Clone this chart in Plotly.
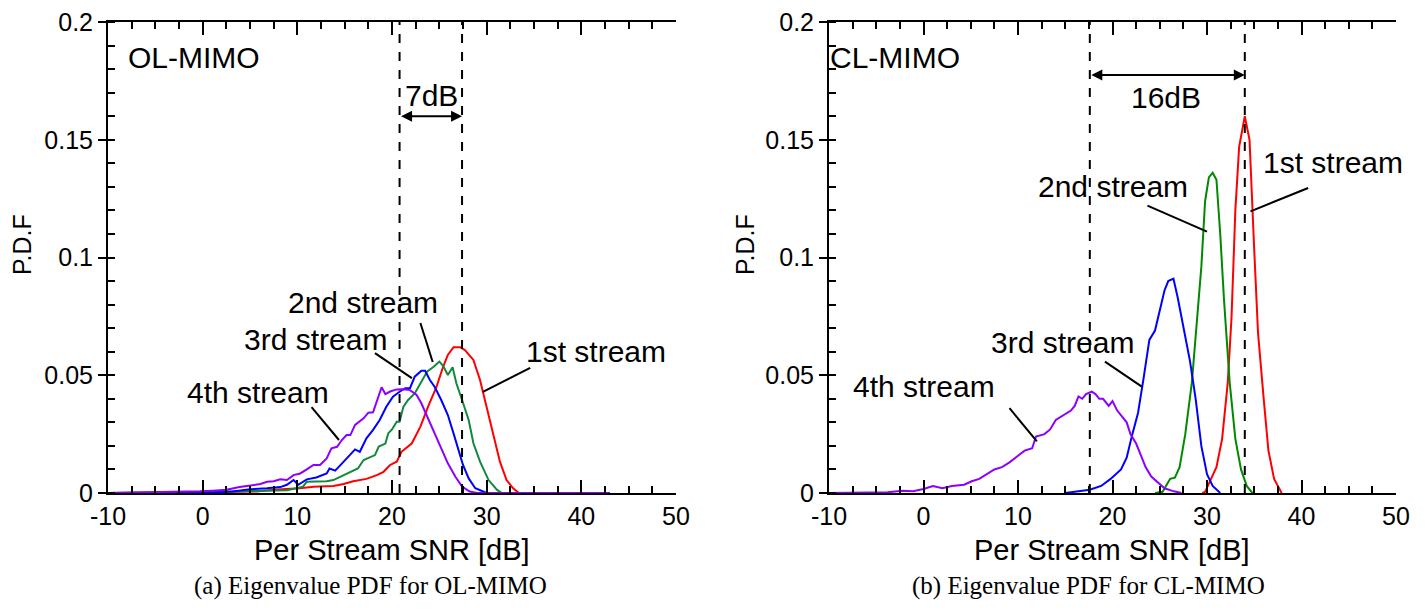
import plotly.graph_objects as go

# ---------------- data: OL-MIMO (left) ----------------
ol_x_1st = [-10, 0, 5.7, 7.8, 10.3, 11.7, 13.8, 14.9, 15.9, 17.3, 18.4, 19.1, 19.8, 20.5, 21.0, 22.1, 23.0, 23.8, 24.7, 25.4, 25.9, 26.5, 27.2, 27.7, 28.6, 29.3, 30.0, 30.7, 31.4, 32.1, 32.8, 33.4, 43]
ol_y_1st = [0, 0.0003, 0.0006, 0.0015, 0.002, 0.0027, 0.003, 0.0038, 0.005, 0.006, 0.0076, 0.009, 0.0119, 0.0133, 0.0175, 0.0211, 0.0282, 0.0366, 0.0451, 0.0536, 0.0586, 0.0619, 0.0619, 0.0607, 0.0565, 0.048, 0.0366, 0.0239, 0.0133, 0.0055, 0.002, 0, 0]

ol_x_2nd = [-10, 0, 5.0, 8.9, 9.9, 10.6, 11.0, 11.7, 13.1, 13.8, 14.5, 15.2, 15.9, 16.4, 17.0, 17.7, 18.2, 18.6, 19.3, 19.6, 20.0, 20.5, 20.8, 21.2, 21.7, 22.4, 23.0, 23.7, 24.4, 25.0, 25.4, 25.9, 26.4, 26.8, 27.4, 28.1, 28.6, 29.3, 30.2, 31.1, 31.6, 43]
ol_y_2nd = [0, 0.0003, 0.0008, 0.0012, 0.002, 0.0027, 0.0048, 0.0048, 0.005, 0.0055, 0.0069, 0.0083, 0.0097, 0.0104, 0.014, 0.0154, 0.0161, 0.0197, 0.021, 0.0253, 0.027, 0.0303, 0.0303, 0.0366, 0.0395, 0.0423, 0.0466, 0.0515, 0.0536, 0.0558, 0.054, 0.0501, 0.0534, 0.0466, 0.0395, 0.031, 0.0211, 0.0133, 0.0055, 0.0013, 0, 0]

ol_x_3rd = [-10, -1.0, 3.2, 5.0, 6.8, 8.2, 8.9, 9.6, 10.1, 11.0, 12.0, 13.1, 13.4, 14.0, 14.9, 15.6, 16.1, 16.6, 17.3, 18.0, 18.7, 19.4, 20.1, 20.8, 21.4, 21.9, 22.4, 23.1, 23.5, 24.0, 24.5, 25.2, 25.9, 26.5, 27.0, 27.5, 28.1, 28.8, 30.0, 43]
ol_y_3rd = [0, 0, 0.0006, 0.0016, 0.002, 0.0025, 0.0035, 0.0055, 0.0035, 0.0058, 0.0066, 0.0083, 0.0104, 0.0095, 0.0133, 0.0161, 0.0185, 0.0175, 0.0232, 0.0268, 0.031, 0.0366, 0.0409, 0.043, 0.0445, 0.0445, 0.0494, 0.0519, 0.0519, 0.048, 0.0451, 0.0395, 0.0331, 0.0253, 0.019, 0.0119, 0.0062, 0.002, 0, 0]

ol_x_4th = [-10, -5, -1.7, -0.3, 1.1, 2.5, 3.9, 5.0, 6.1, 6.8, 7.5, 8.2, 8.9, 9.6, 10.3, 11.0, 11.7, 12.4, 13.1, 13.6, 14.2, 14.7, 15.2, 15.6, 16.1, 17.0, 17.5, 18.0, 18.6, 18.9, 19.3, 19.8, 20.5, 21.2, 21.9, 22.6, 23.1, 23.8, 24.5, 25.2, 25.9, 26.7, 27.4, 28.2, 29.0, 43]
ol_y_4th = [0, 0.0003, 0.0004, 0.0007, 0.001, 0.0014, 0.0025, 0.003, 0.0038, 0.0048, 0.005, 0.0058, 0.0055, 0.0076, 0.0083, 0.01, 0.0119, 0.0119, 0.0147, 0.019, 0.0196, 0.0225, 0.0246, 0.0246, 0.0289, 0.0317, 0.0341, 0.0343, 0.0416, 0.0449, 0.042, 0.0431, 0.044, 0.0441, 0.0437, 0.0416, 0.0381, 0.0317, 0.0253, 0.019, 0.0126, 0.0069, 0.0027, 0.0006, 0, 0]

# ---------------- data: CL-MIMO (right) ----------------
cl_x_1st = [29.5, 29.8, 31.0, 31.6, 32.2, 32.6, 33.0, 33.4, 34.0, 34.5, 35.0, 35.4, 36.0, 36.5, 37.1, 37.9]
cl_y_1st = [0, 0.0005, 0.011, 0.023, 0.047, 0.075, 0.12, 0.147, 0.160, 0.150, 0.103, 0.068, 0.040, 0.018, 0.006, 0]

cl_x_2nd = [24.5, 25.3, 26.1, 26.6, 27.1, 27.7, 28.4, 29.0, 29.4, 29.8, 30.2, 30.6, 31.0, 31.4, 31.8, 32.4, 33.0, 33.6, 34.2, 34.8]
cl_y_2nd = [0, 0.0005, 0.006, 0.0065, 0.011, 0.025, 0.047, 0.075, 0.096, 0.124, 0.134, 0.136, 0.133, 0.11, 0.082, 0.047, 0.023, 0.010, 0.003, 0]

cl_x_3rd = [15.0, 16.4, 17.6, 18.8, 19.8, 20.9, 21.5, 22.1, 22.7, 23.3, 23.9, 24.5, 24.9, 25.5, 25.9, 26.45, 26.9, 27.5, 28.2, 28.8, 29.4, 30.0, 30.6, 31.4]
cl_y_3rd = [0, 0.0007, 0.0014, 0.003, 0.006, 0.010, 0.015, 0.025, 0.034, 0.049, 0.065, 0.069, 0.076, 0.086, 0.090, 0.091, 0.083, 0.071, 0.056, 0.040, 0.020, 0.008, 0.003, 0]

cl_x_4th = [-10, -7.9, -5.8, -3.8, -2.2, -1.1, 0.0, 1.0, 2.0, 3.0, 4.3, 5.1, 5.9, 6.7, 7.5, 8.3, 9.1, 9.9, 10.7, 11.5, 11.9, 12.8, 13.4, 14.0, 14.8, 15.6, 16.0, 16.4, 16.8, 17.2, 17.8, 18.2, 18.6, 19.0, 19.6, 20.0, 20.5, 21.1, 21.5, 21.9, 22.5, 22.9, 23.5, 24.1, 24.7, 25.5, 26.5, 27.3]
cl_y_4th = [0, 0, 0.0003, 0.0003, 0.001, 0.0007, 0.0017, 0.003, 0.002, 0.003, 0.0035, 0.005, 0.006, 0.008, 0.010, 0.011, 0.013, 0.0155, 0.018, 0.019, 0.024, 0.025, 0.027, 0.031, 0.033, 0.035, 0.037, 0.041, 0.040, 0.042, 0.043, 0.042, 0.040, 0.040, 0.037, 0.039, 0.035, 0.032, 0.030, 0.025, 0.021, 0.017, 0.011, 0.007, 0.005, 0.002, 0.0007, 0]

# vertical reference lines (dB) and gap labels
ol_ref_lines = [20.8, 27.4]
cl_ref_lines = [17.6, 34.0]
ol_gap_label = "7dB"
cl_gap_label = "16dB"

x_ticks = [-10, 0, 10, 20, 30, 40, 50]
x_tick_text = ["-10", "0", "10", "20", "30", "40", "50"]

stream_names = ["1st stream", "2nd stream", "3rd stream", "4th stream"]
ol_colors = ["#ff0000", "#0f8a3c", "#0000ff", "#8b00ff"]
cl_colors = ["#ff0000", "#008a00", "#0000ff", "#8b00ff"]

FONT = "Liberation Sans, Arial, Helvetica, sans-serif"
SERIF = "Liberation Serif, Times New Roman, serif"

fig = go.Figure()

ol_series = [(ol_x_1st, ol_y_1st), (ol_x_2nd, ol_y_2nd), (ol_x_3rd, ol_y_3rd), (ol_x_4th, ol_y_4th)]
cl_series = [(cl_x_1st, cl_y_1st), (cl_x_2nd, cl_y_2nd), (cl_x_3rd, cl_y_3rd), (cl_x_4th, cl_y_4th)]

for (xs, ys), name, col in zip(ol_series, stream_names, ol_colors):
    fig.add_trace(go.Scatter(x=xs, y=ys, mode="lines", name=name,
                             line=dict(color=col, width=2), xaxis="x", yaxis="y", showlegend=False))
for (xs, ys), name, col in zip(cl_series, stream_names, cl_colors):
    fig.add_trace(go.Scatter(x=xs, y=ys, mode="lines", name=name,
                             line=dict(color=col, width=2), xaxis="x2", yaxis="y2", showlegend=False))

# page offset of the figure (body margin) and target plot area in page pixels
OFF = 8
W, H = 1427 - OFF - 8, 609 - OFF - 8
LEFT, RIGHT, TOP, BOTTOM = 108, 1396, 22, 493
ML = LEFT - OFF
MT = TOP - OFF
MR = W - (RIGHT - OFF)
MB = H - (BOTTOM - OFF)
PW = W - ML - MR
PH = H - MT - MB

def xd(px):
    return (px - OFF - ML) / PW

def yd(py):
    return (H - MB - (py - OFF)) / PH

def xaxis_cfg(domain, anchor):
    return dict(domain=domain, anchor=anchor, range=[-10, 50], showgrid=False, zeroline=False,
                automargin=False, ticklabeloverflow="allow",
                showline=True, linecolor="black", linewidth=2, mirror="allticks",
                ticks="inside", ticklen=13, tickwidth=2, tickcolor="black",
                tickvals=x_ticks, ticktext=x_tick_text,
                tickfont=dict(family=FONT, size=25, color="black"),
                minor=dict(ticks="inside", ticklen=7, tickwidth=2, tickcolor="black", dtick=2.5, showgrid=False))

def yaxis_cfg(anchor):
    return dict(domain=[0, 1], anchor=anchor, range=[0, 0.2], showgrid=False, zeroline=False,
                automargin=False, ticklabeloverflow="allow",
                showline=True, linecolor="black", linewidth=2, mirror=False,
                ticks="outside", ticklen=8, tickwidth=2, tickcolor="black", dtick=0.05, tick0=0,
                tickfont=dict(family=FONT, size=25, color="black"),
                minor=dict(ticks="inside", ticklen=7, tickwidth=2, tickcolor="black", dtick=0.01, showgrid=False))

def yaxis_right_cfg(over, anchor):
    return dict(overlaying=over, side="right", anchor=anchor, range=[0, 0.2], showgrid=False, zeroline=False,
                automargin=False,
                showline=True, linecolor="black", linewidth=2,
                ticks="inside", ticklen=13, tickwidth=2, tickcolor="black", dtick=0.05, tick0=0,
                showticklabels=False,
                minor=dict(ticks="inside", ticklen=7, tickwidth=2, tickcolor="black", dtick=0.01, showgrid=False))

fig.update_layout(
    width=W, height=H,
    margin=dict(l=ML, r=MR, t=MT, b=MB, autoexpand=False),
    paper_bgcolor="white", plot_bgcolor="white",
    xaxis=xaxis_cfg([0, xd(676)], "y"),
    yaxis=yaxis_cfg("x"),
    xaxis2=xaxis_cfg([xd(829), 1], "y2"),
    yaxis2=yaxis_cfg("x2"),
    yaxis3=yaxis_right_cfg("y", "x"),
    yaxis4=yaxis_right_cfg("y2", "x2"),
)

shapes = []
for xv in ol_ref_lines:
    shapes.append(dict(type="line", xref="x", yref="y", x0=xv, x1=xv, y0=0, y1=0.2,
                       line=dict(color="black", width=2, dash="dash")))
for xv in cl_ref_lines:
    shapes.append(dict(type="line", xref="x2", yref="y2", x0=xv, x1=xv, y0=0, y1=0.2,
                       line=dict(color="black", width=2, dash="dash")))

# leader lines: (text end) -> (curve end)
ol_leaders = [((34.6, 0.0531), (29.6, 0.0429)),
              ((23.0, 0.0722), (24.3, 0.0556)),
              ((18.2, 0.0594), (22.1, 0.0488)),
              ((11.5, 0.0365), (14.4, 0.0225))]
cl_leaders = [((40.7, 0.1295), (34.6, 0.1196)),
              ((23.7, 0.122), (30.0, 0.111)),
              ((19.2, 0.0558), (23.1, 0.0452)),
              ((9.1, 0.036), (12.0, 0.0219))]
for (a, b) in ol_leaders:
    shapes.append(dict(type="line", xref="x", yref="y", x0=a[0], y0=a[1], x1=b[0], y1=b[1],
                       line=dict(color="black", width=2)))
for (a, b) in cl_leaders:
    shapes.append(dict(type="line", xref="x2", yref="y2", x0=a[0], y0=a[1], x1=b[0], y1=b[1],
                       line=dict(color="black", width=2)))
fig.update_layout(shapes=shapes)

ol_label_pos = [(41.5, 0.0600), (16.9, 0.0807), (11.9, 0.0650), (5.8, 0.0425)]
cl_label_pos = [(43.3, 0.1405), (20.05, 0.1300), (14.66, 0.0637), (0.0, 0.0454)]

ann = []
def txt(x, y, s, xr, yr, size=30):
    return dict(x=x, y=y, xref=xr, yref=yr, text=s, showarrow=False, xanchor="center", yanchor="middle",
                font=dict(family=FONT, size=size, color="black"))

def ptxt(px, py, s, size, family=FONT, angle=0):
    return dict(x=xd(px), y=yd(py), xref="paper", yref="paper", text=s, showarrow=False,
                xanchor="center", yanchor="middle", textangle=angle,
                font=dict(family=family, size=size, color="black"))

for (x, y), s in zip(ol_label_pos, stream_names):
    ann.append(txt(x, y, s, "x", "y"))
for (x, y), s in zip(cl_label_pos, stream_names):
    ann.append(txt(x, y, s, "x2", "y2"))

ann.append(txt(-0.9, 0.185, "OL-MIMO", "x", "y"))
ann.append(txt(-3.0, 0.185, "CL-MIMO", "x2", "y2"))
ann.append(txt(24.2, 0.169, ol_gap_label, "x", "y"))
ann.append(txt(25.7, 0.168, cl_gap_label, "x2", "y2"))

# double-headed arrows between reference lines
ann.append(dict(x=ol_ref_lines[1], y=0.160, ax=ol_ref_lines[0], ay=0.160, xref="x", yref="y", axref="x", ayref="y",
                text="", showarrow=True, arrowhead=2, startarrowhead=2, arrowside="end+start",
                arrowwidth=2, arrowsize=1.1, startarrowsize=1.1, arrowcolor="black"))
ann.append(dict(x=cl_ref_lines[1], y=0.1775, ax=cl_ref_lines[0], ay=0.1775, xref="x2", yref="y2", axref="x2", ayref="y2",
                text="", showarrow=True, arrowhead=2, startarrowhead=2, arrowside="end+start",
                arrowwidth=2, arrowsize=1.1, startarrowsize=1.1, arrowcolor="black"))

# axis titles (placed as text to match positions)
ann.append(ptxt(392, 550, "Per Stream SNR [dB]", 29))
ann.append(ptxt(1112, 550, "Per Stream SNR [dB]", 29))
ann.append(ptxt(22, 245, "P.D.F", 25, angle=-90))
ann.append(ptxt(745, 245, "P.D.F", 25, angle=-90))

# captions
ann.append(ptxt(370, 586, "(a) Eigenvalue PDF for OL-MIMO", 25, family=SERIF))
ann.append(ptxt(1088, 586, "(b) Eigenvalue PDF for CL-MIMO", 25, family=SERIF))

fig.update_layout(annotations=ann)

fig.write_html("out.html")
